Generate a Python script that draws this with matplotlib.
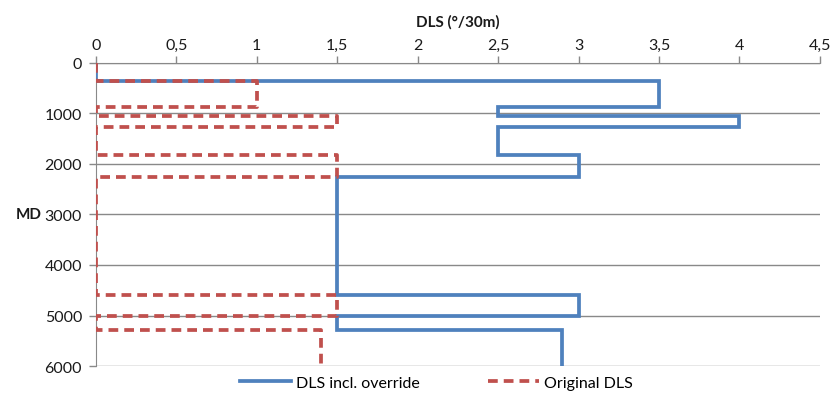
import numpy as np
import matplotlib.pyplot as plt

plt.rcParams['font.family'] = ['Lato', 'DejaVu Sans']

# depth interval boundaries (MD) and DLS value in each interval
md_bounds = [0, 360, 870, 1050, 1270, 1830, 2260, 4590, 5000, 5290, 6000]
dls_override = [0, 3.5, 2.5, 4, 2.5, 3, 1.5, 3, 1.5, 2.9]
dls_original = [0, 1, 0, 1.5, 0, 1.5, 0, 1.5, 0, 1.4]

x_ticks = [0, 0.5, 1, 1.5, 2, 2.5, 3, 3.5, 4, 4.5]
x_ticklabels = ['0', '0,5', '1', '1,5', '2', '2,5', '3', '3,5', '4', '4,5']
y_ticks = [0, 1000, 2000, 3000, 4000, 5000, 6000]


def profile(bounds, vals):
    # vertical step profile: value constant over each depth interval
    xs = np.repeat(vals, 2)
    ys = np.repeat(bounds, 2)[1:-1]
    return xs, ys


fig = plt.figure(figsize=(8.34, 4.02), dpi=100)
ax = fig.add_axes([0.115, 0.087, 0.868, 0.754])

grid_c = '#898989'
for y in y_ticks:
    ax.axhline(y, color=grid_c, linewidth=1, zorder=1)

xb, yb = profile(md_bounds, dls_override)
xr, yr = profile(md_bounds, dls_original)
ax.plot(xb, yb, color='#4F81BD', linewidth=2.7, label='DLS incl. override',
        solid_joinstyle='miter', zorder=3)
ax.plot(xr, yr, color='#C0504D', linewidth=2.7, linestyle=(0, (2.6, 1.6)),
        label='Original DLS', zorder=4)

ax.set_xlim(0, 4.5)
ax.set_ylim(6000, 0)
ax.xaxis.tick_top()
ax.xaxis.set_label_position('top')
ax.set_xticks(x_ticks)
ax.set_xticklabels(x_ticklabels)
ax.set_yticks(y_ticks)
ax.tick_params(axis='both', colors=grid_c, labelcolor='#1a1a1a', labelsize=11.5,
               length=5, width=1)
ax.tick_params(axis='x', pad=3)
ax.tick_params(axis='y', pad=5)

for s in ['right', 'bottom']:
    ax.spines[s].set_visible(False)
ax.spines['left'].set_color(grid_c)
ax.spines['top'].set_color(grid_c)

ax.set_xlabel('DLS (°/30m)', fontsize=11, fontweight='bold', labelpad=9,
              color='#1a1a1a')
ax.set_ylabel('MD', fontsize=11, fontweight='bold', rotation=0,
              va='center', ha='right', color='#1a1a1a')
ax.yaxis.set_label_coords(-0.075, 0.5)

leg = ax.legend(loc='upper center', bbox_to_anchor=(0.47, 0.0), ncol=2,
                frameon=False, fontsize=11.5, handlelength=3.2, columnspacing=4.3,
                handletextpad=0.3, borderaxespad=0.2)

plt.savefig('out.png', dpi=100)
